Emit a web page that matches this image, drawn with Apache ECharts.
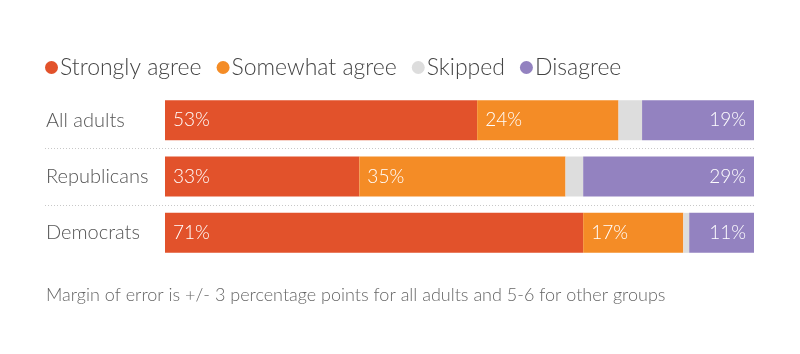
<!DOCTYPE html>
<html>
<head>
<meta charset="utf-8">
<script src="https://cdn.jsdelivr.net/npm/echarts@6/dist/echarts.min.js"></script>
<style>
  html, body { margin: 0; padding: 0; background: #fff; }
  #chart { width: 800px; height: 354px; }
</style>
</head>
<body>
<div id="chart"></div>
<script>
// groups, top to bottom
var groups = ['All adults', 'Republicans', 'Democrats'];
var seriesNames = ['Strongly agree', 'Somewhat agree', 'Skipped', 'Disagree'];
var stronglyAgree = [53, 33, 71];
var somewhatAgree = [24, 35, 17];
var skipped = [4, 3, 1];
var disagree = [19, 29, 11];
var colors = ['#E2522B', '#F48C26', '#DDDDDD', '#9382C0'];
var note = 'Margin of error is +/- 3 percentage points for all adults and 5-6 for other groups';

var chart = echarts.init(document.getElementById('chart'));
var font = 'Lato';
var weight = 300;

function pct(p) { return p.value + '%'; }

function barSeries(name, data, color, label) {
	return {
		name: name,
		type: 'bar',
		stack: 'all',
		barWidth: 40,
		data: data,
		itemStyle: { color: color },
		label: label,
		emphasis: { disabled: true },
		xAxisIndex: 0,
		yAxisIndex: 0
	};
}

var leftLabel = { show: true, position: 'insideLeft', distance: 8, color: '#fff', fontFamily: font, fontWeight: weight, fontSize: 19, formatter: pct };
var rightLabel = { show: true, position: 'insideRight', distance: 8, color: '#fff', fontFamily: font, fontWeight: weight, fontSize: 19, formatter: pct };

chart.setOption({
	animation: false,
	textStyle: { fontFamily: font },
	legend: {
		data: seriesNames,
		left: 40,
		top: 51,
		icon: 'circle',
		itemWidth: 13,
		itemHeight: 13,
		itemGap: 15,
		textStyle: { fontSize: 23, color: '#444', fontFamily: font, fontWeight: weight, padding: [0, 0, 0, -3] }
	},
	grid: [
		{ left: 165, right: 46, top: 92, bottom: 93 },
		// separator lines between rows
		{ left: 45, right: 46, top: 148, bottom: 149 }
	],
	xAxis: [
		{ gridIndex: 0, type: 'value', min: 0, max: 100, show: false },
		{ gridIndex: 1, type: 'value', min: 0, max: 1, show: false }
	],
	yAxis: [
		{
			gridIndex: 0,
			type: 'category',
			data: groups,
			inverse: true,
			axisLine: { show: false },
			axisTick: { show: false },
			axisLabel: { align: 'left', margin: 119, color: '#555', fontSize: 20, fontFamily: font, fontWeight: weight }
		},
		{
			gridIndex: 1,
			type: 'value',
			min: 0,
			max: 1,
			interval: 1,
			axisLine: { show: false },
			axisTick: { show: false },
			axisLabel: { show: false },
			splitLine: { show: true, lineStyle: { color: '#c8c8c8', type: [1, 2], width: 1 } }
		}
	],
	graphic: [{
		type: 'text',
		left: 46,
		top: 286,
		style: { text: note, fontSize: 18, fill: '#666', fontFamily: font, fontWeight: weight }
	}],
	series: [
		barSeries(seriesNames[0], stronglyAgree, colors[0], leftLabel),
		barSeries(seriesNames[1], somewhatAgree, colors[1], leftLabel),
		barSeries(seriesNames[2], skipped, colors[2], { show: false }),
		barSeries(seriesNames[3], disagree, colors[3], rightLabel)
	]
});
</script>
</body>
</html>
